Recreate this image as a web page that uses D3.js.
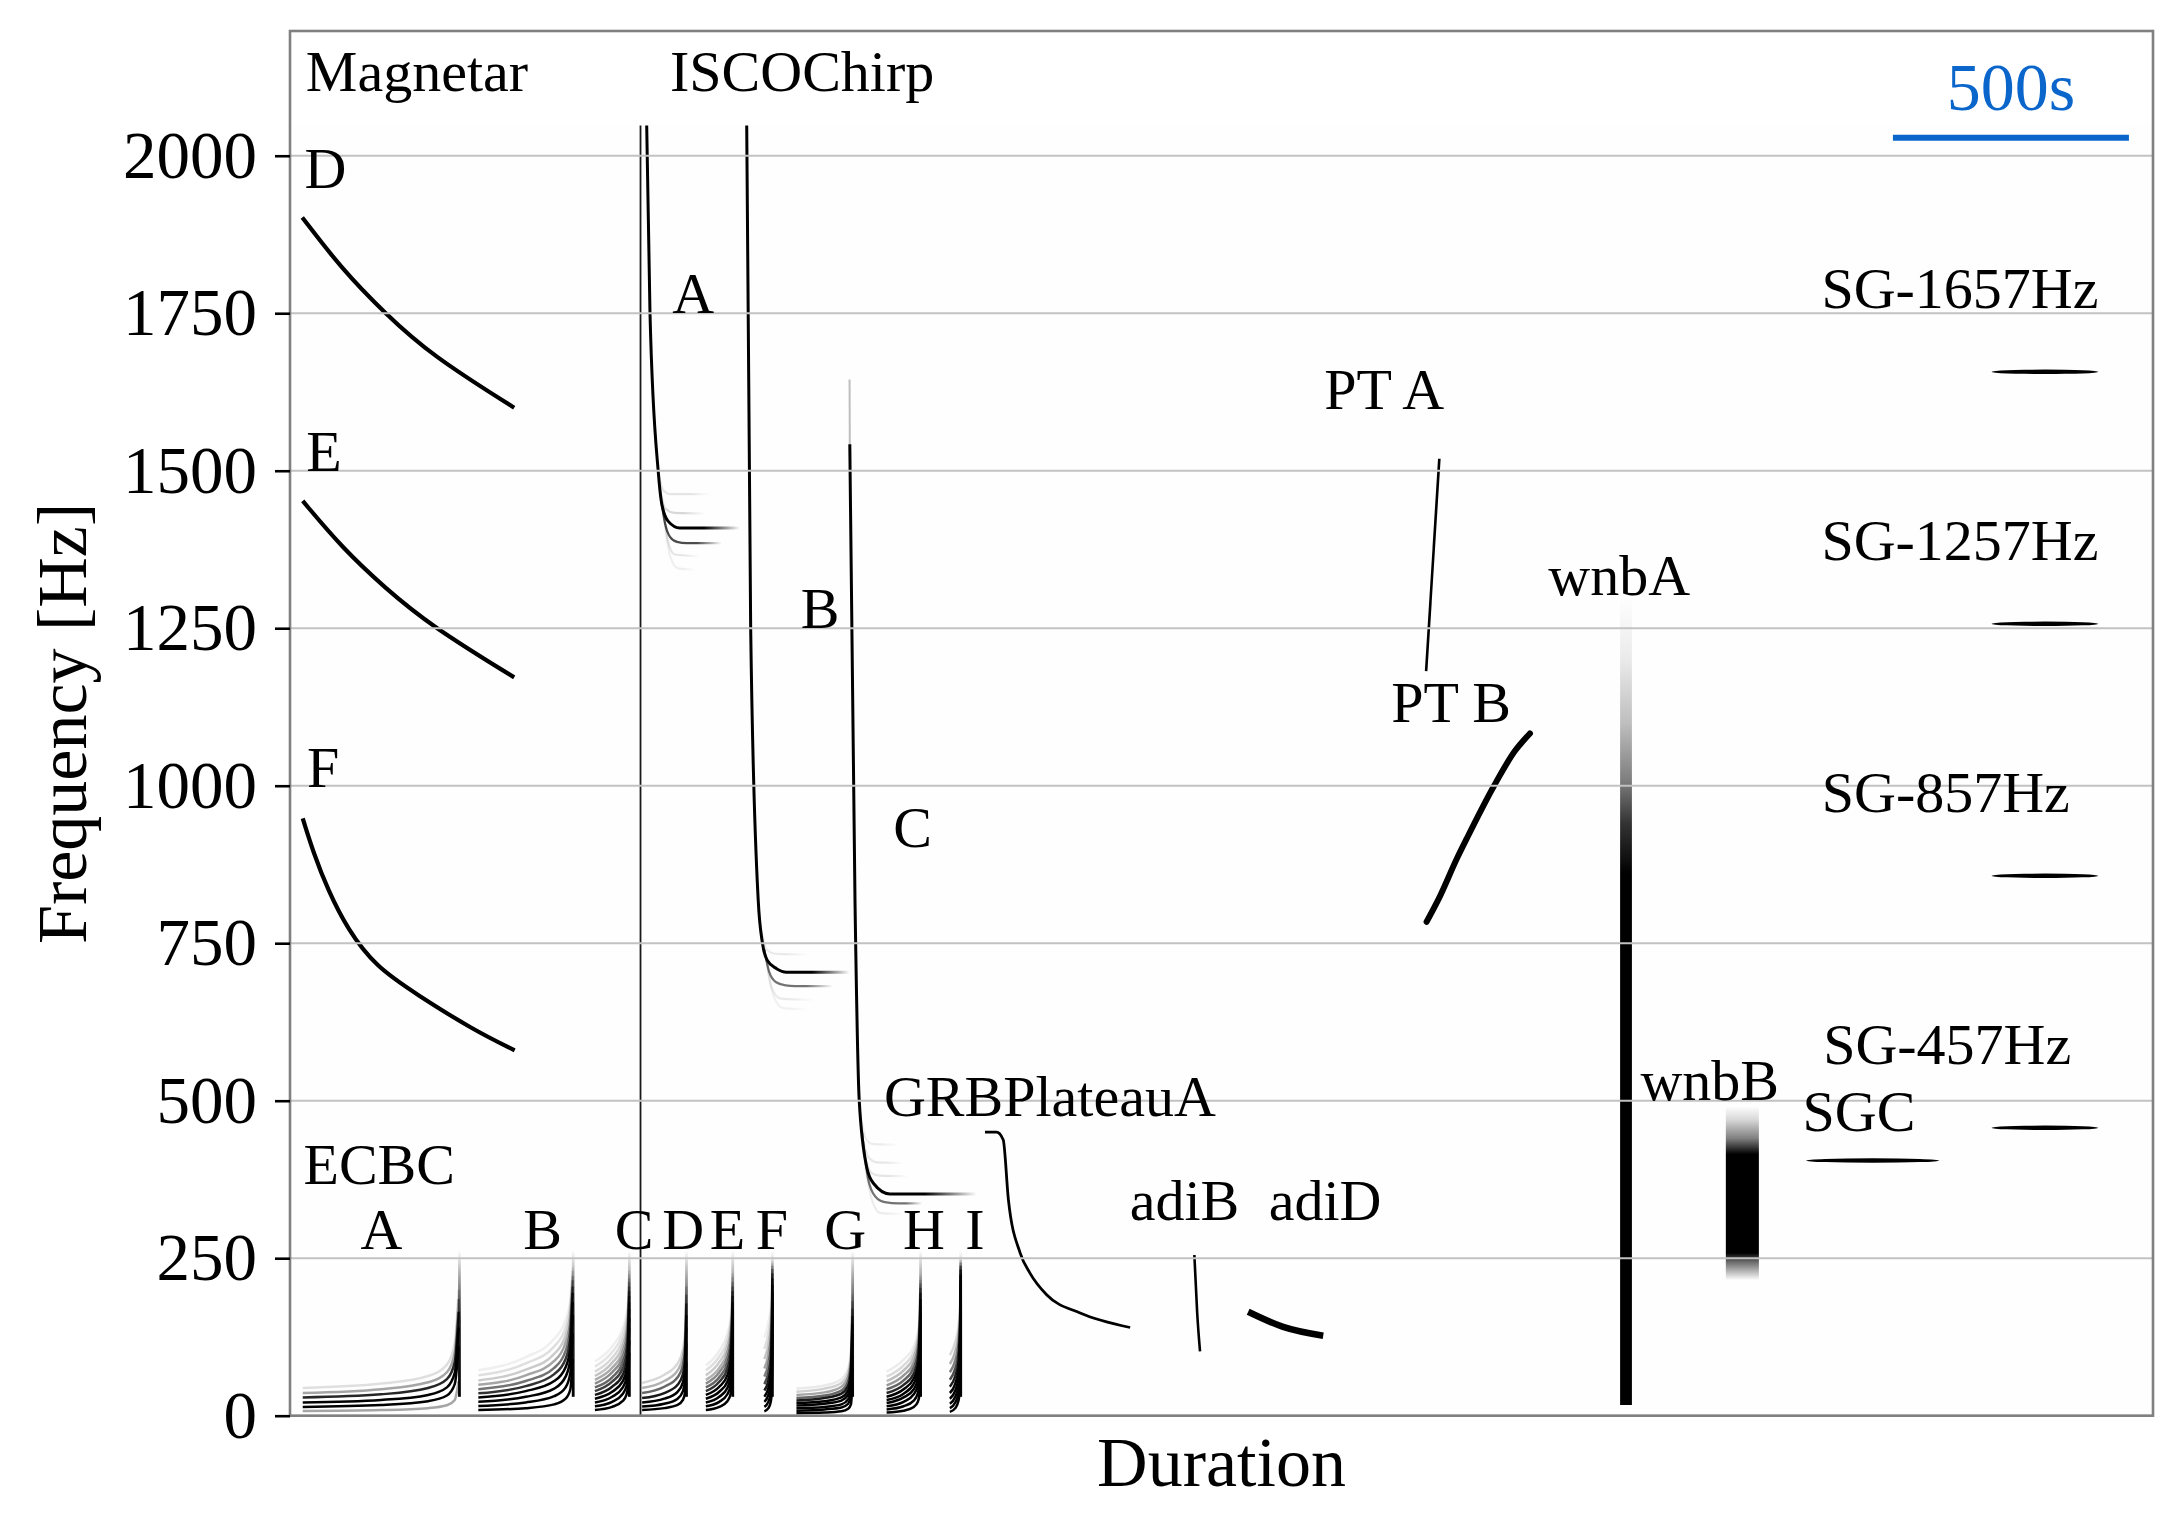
<!DOCTYPE html>
<html><head><meta charset="utf-8">
<script src="https://cdn.jsdelivr.net/npm/d3@7"></script>
<style>
html,body{margin:0;padding:0;background:#fff;}
svg text{font-family:"Liberation Serif","Times New Roman",serif;}
</style></head><body>
<svg id="chart" width="2181" height="1533"></svg>
<script>
// ---------------- DATA (time in seconds, frequency in Hz) ----------------
const yTicks = [0, 250, 500, 750, 1000, 1250, 1500, 1750, 2000];

const magnetarD = [[26,1902],[110,1820],[201,1750],[300,1683],[475,1600]];
const magnetarE = [[27,1452],[110,1378],[201,1314],[300,1253],[475,1172]];
const magnetarF = [[27,948],[50,893],[80,835],[122,772],[181,713],[270,668],[387,613],[476,580]];

// ECBC chirp families: frequency of each track at these phases of the group duration
const ecbcPhase = [0, 0.5, 0.8, 0.92, 0.97, 0.995];
const ecbcTimes = [[27,359],[399,600],[646,719],[746,840],[881,938],[1005,1022],[1073,1192],[1264,1336],[1398,1421]];
const ecbcA = [[7.5,9,12,16.5,25,55],[14,17,23,32,50,110],[21,25,33,45,68,140],[29,34,44,58,85,165],[36,42,53,69,100,185],[44,51,63,81,115,200]];
const ecbcAAmp = [0.35,1,1,0.85,0.35,0.12];
const ecbcB = [[9,12,18,27,42,90],[15.5,21,31,45,68,130],[22,30,43,62,90,160],[29,39,55,77,108,180],[35.5,47,66,90,124,195],[42,55,76,103,138,205],[49,64,87,116,150,215],[56,73,98,128,162,222],[64,83,110,140,175,230],[72,93,122,152,185,235]];
const ecbcBAmp = [1,1,1,1,0.8,0.55,0.35,0.2,0.12,0.06];
const ecbcC = [[9,14,23,34,52,100],[15,22,34,48,70,120],[21,30,44,61,86,140],[27,38,54,73,100,155],[33,46,64,85,113,170],[39,54,74,96,125,180],[45,61,83,106,136,190],[51,69,92,116,146,198],[57,76,101,126,156,205],[63,84,110,135,165,212],[70,92,119,144,173,218],[78,101,129,154,181,224],[86,110,138,163,189,230]];
const ecbcCAmp = [1,1,1,1,0.9,0.75,0.6,0.45,0.33,0.23,0.15,0.1,0.06];
const ecbcD = [[9,12,17,25,38,85],[14.5,19,27,39,58,115],[21,27,38,53,76,140],[28,36,49,66,92,160],[36,46,61,80,108,178],[44,55,72,93,122,192],[52,65,83,105,135,205]];
const ecbcDAmp = [1,1,1,0.9,0.6,0.3,0.15];
const ecbcE = [[9,14,23,34,52,100],[15,22,34,48,70,120],[21,30,44,61,86,140],[27,38,54,73,100,155],[33,46,64,85,113,170],[39,54,74,96,125,180],[45,61,83,106,136,190],[51,69,92,116,146,198],[57,76,101,126,156,205],[64,85,110,135,165,212],[72,94,120,145,174,220],[80,103,130,155,183,226]];
const ecbcEAmp = [1,1,1,1,1,0.8,0.6,0.45,0.3,0.2,0.12,0.07];
const ecbcF = [[7,12,22,38,65,130],[14,22,36,56,90,160],[22,33,50,74,110,180],[30,44,64,90,128,195],[40,56,78,106,145,208],[50,68,92,122,160,218],[62,82,108,138,175,226],[75,97,124,154,188,233],[90,113,140,168,200,238],[106,130,157,183,212,242],[124,148,174,198,223,246]];
const ecbcFAmp = [1,1,1,1,0.9,0.7,0.5,0.35,0.22,0.12,0.06];
const ecbcG = [[4,5,7,11,18,50],[8,10,13,19,30,75],[12,14,18,26,40,95],[16,19,24,33,50,115],[20,23,29,40,60,130],[24,28,35,47,69,145],[28,32,40,54,78,158],[33,37,46,61,87,170],[38,43,52,68,96,182],[43,48,58,75,105,192]];
const ecbcGAmp = [1,1,1,1,1,0.9,0.6,0.35,0.18,0.08];
const ecbcH = [[5,8,14,22,36,80],[10,15,24,36,55,110],[15,22,34,48,70,130],[20,29,42,59,84,148],[25,35,51,69,96,162],[30,42,59,79,107,174],[36,49,67,88,117,185],[42,56,76,98,127,195],[48,64,84,107,136,203],[55,72,93,116,145,210],[62,80,101,124,153,216],[70,89,110,133,161,222]];
const ecbcHAmp = [1,1,1,1,1,1,0.85,0.6,0.4,0.25,0.14,0.07];
const ecbcI = [[6,12,24,42,72,140],[12,21,36,58,95,170],[19,30,48,74,115,190],[27,40,60,88,130,205],[36,51,73,102,145,215],[46,63,86,116,158,224],[57,75,99,129,170,232],[69,88,113,142,182,238],[82,102,127,155,193,243],[96,117,142,168,204,247]];
const ecbcIAmp = [1,1,1,1,1,0.9,0.7,0.5,0.3,0.15];
const ecbcTracks = [ecbcA, ecbcB, ecbcC, ecbcD, ecbcE, ecbcF, ecbcG, ecbcH, ecbcI];
const ecbcAmps = [ecbcAAmp, ecbcBAmp, ecbcCAmp, ecbcDAmp, ecbcEAmp, ecbcFAmp, ecbcGAmp, ecbcHAmp, ecbcIAmp];
const ecbcSpikeRange = [30, 262];

// ISCO chirps
const iscoSpike = [742.6, 0, 2048];
const iscoA = [[755.7,2048],[762.7,1750],[780,1500],[787,1450],[801,1420],[826,1409],[953,1409]];
const iscoB = [[967.6,2048],[976,1250],[992,818],[1001,750],[1011,723],[1031,709.5],[1052,704],[1186,704]];
const iscoC = [[1186,1542],[1197,818],[1206,500],[1222,394],[1236,369],[1271,352],[1455,352]];
const iscoCTop = [[1185.5,1645],[1186,1542]];
const iscoSide = [
  [[787,1450],[795,1415],[805,1395],[820,1387],[840,1385],[915,1385]],
  [[780,1500],[790,1470],[805,1463],[830,1463],[890,1463]],
  [[784,1470],[795,1440],[815,1433],[880,1432]],
  [[790,1440],[800,1390],[815,1367],[870,1364]],
  [[793,1430],[805,1365],[822,1345],[860,1343]],
  [[1005,740],[1015,705],[1030,688],[1050,683],[1070,682],[1150,682]],
  [[999,770],[1010,740],[1030,733],[1100,732]],
  [[1008,730],[1020,680],[1040,662],[1110,660]],
  [[1010,720],[1025,665],[1045,647],[1100,645]],
  [[1212,450],[1225,375],[1240,348],[1260,339],[1290,337],[1340,337]],
  [[1208,480],[1220,440],[1235,431],[1290,430]],
  [[1213,440],[1226,410],[1245,402],[1300,401]],
  [[1218,410],[1232,385],[1250,381],[1310,380]],
  [[1218,400],[1232,345],[1250,322],[1300,320]]
];
const iscoSideAmp = [0.7,0.1,0.15,0.1,0.06,0.55,0.08,0.08,0.05,0.55,0.07,0.09,0.1,0.07];

const grbPlateauA = [[1472.5,450],[1497,450],[1511,438],[1522,343],[1547,258],[1568,226],[1603,192],[1674,163],[1780,140]];
const adiB = [[1916,255],[1922,163],[1928,102]];
const adiD = [[2030,165],[2104,141],[2189,127]];
const ptA = [[2407,1182],[2435,1519]];
const ptB = [[2408,784],[2436,824],[2472,884],[2493,916],[2551,1000],[2595,1055],[2627,1083]];

const wnbATime = [2818, 2843];
const wnbAProfile = [[17,1],[860,1],[940,0.8],[1010,0.5],[1100,0.25],[1200,0.08],[1300,0]];
const wnbBTime = [3042, 3112];
const wnbBProfile = [[215,0],[245,0.6],[258,1],[415,1],[440,0.5],[470,0.15],[491,0]];

const sgFreqs = [405, 457, 857, 1257, 1657];
const sgTimes = [[3212,3494],[3605,3831],[3605,3831],[3605,3831],[3605,3831]];

const scaleBar = {start: 3396, length: 500, freq: 2028.6, label: "500s", labelFreq: 2072};

const labels = [
  ["Magnetar",269,2103],["ISCOChirp",1085,2103],["D",75,1949],["E",72,1499],["F",70,998],
  ["A",854,1750],["B",1123,1250],["C",1319,903],
  ["ECBC",189,368],["A",194,265],["B",535,265],["C",729,265],["D",833,265],["E",927,265],
  ["F",1021,265],["G",1176,265],["H",1343,265],["I",1451,265],
  ["GRBPlateauA",1610,476],["adiB",1895,311],["adiD",2193,311],
  ["PT A",2318,1598],["PT B",2460,1101],["wnbA",2816,1302],["wnbB",3008,500.6],
  ["SGC",3324,452],["SG-457Hz",3511,558],["SG-857Hz",3508,958],["SG-1257Hz",3538,1358],["SG-1657Hz",3538,1758]
];

// ---------------- DRAWING ----------------
const svg = d3.select('#chart');
const M = {left:290, right:2153, top:31, bottom:1415.7};
const x = d3.scaleLinear().domain([0,3947]).range([M.left, M.right]);
const y = d3.scaleLinear().domain([0,2198]).range([M.bottom, M.top]);
const defs = svg.append('defs');
const FONT = '"Liberation Serif","Times New Roman",serif';

svg.append('rect').attr('x',M.left).attr('y',y(2048)).attr('width',M.right-M.left)
  .attr('height',M.bottom-y(2048)).attr('fill','#fefefe');

const g = svg.append('g');
const curve = d3.line().x(d=>x(d[0])).y(d=>y(d[1])).curve(d3.curveMonotoneX);
const smooth = d3.line().x(d=>x(d[0])).y(d=>y(d[1])).curve(d3.curveBasis);
const straight = d3.line().x(d=>x(d[0])).y(d=>y(d[1]));

let gid = 0;
function hFade(s0, s1, op){
  const id = 'hf'+(gid++);
  const gr = defs.append('linearGradient').attr('id',id).attr('gradientUnits','userSpaceOnUse')
    .attr('x1',x(s0)).attr('x2',x(s1)).attr('y1',0).attr('y2',0);
  gr.append('stop').attr('offset',0).attr('stop-color','#000').attr('stop-opacity',op);
  gr.append('stop').attr('offset',1).attr('stop-color','#000').attr('stop-opacity',0);
  return 'url(#'+id+')';
}
function vProfile(profile){
  const id = 'vp'+(gid++);
  const f0 = profile[0][0], f1 = profile[profile.length-1][0];
  const gr = defs.append('linearGradient').attr('id',id).attr('gradientUnits','userSpaceOnUse')
    .attr('x1',0).attr('x2',0).attr('y1',y(f0)).attr('y2',y(f1));
  profile.forEach(p=>gr.append('stop').attr('offset',(p[0]-f0)/(f1-f0)).attr('stop-color','#000').attr('stop-opacity',p[1]));
  return 'url(#'+id+')';
}

// Magnetars
[magnetarD, magnetarE, magnetarF].forEach(p=>{
  g.append('path').attr('d',smooth(p)).attr('fill','none').attr('stroke','#000').attr('stroke-width',4.2);
});

// ECBC families
const spikeFill = vProfile([[ecbcSpikeRange[0],1],[150,0.85],[220,0.35],[ecbcSpikeRange[1],0]]);
ecbcTracks.forEach((tracks, gi)=>{
  const [t0,t1] = ecbcTimes[gi];
  tracks.forEach((fr, ti)=>{
    const pts = ecbcPhase.map((u,i)=>[t0+u*(t1-t0), fr[i]]);
    g.append('path').attr('d',curve(pts)).attr('fill','none').attr('stroke','#000')
      .attr('stroke-opacity',ecbcAmps[gi][ti]).attr('stroke-width',2.5);
  });
  g.append('rect').attr('x',x(t1)-1.4).attr('width',2.8)
    .attr('y',y(ecbcSpikeRange[1])).attr('height',y(ecbcSpikeRange[0])-y(ecbcSpikeRange[1]))
    .attr('fill',spikeFill);
});

// ISCO
g.append('line').attr('x1',x(iscoSpike[0])).attr('x2',x(iscoSpike[0]))
  .attr('y1',y(iscoSpike[1])).attr('y2',y(iscoSpike[2])).attr('stroke','#000').attr('stroke-width',1.8).attr('stroke-opacity',0.9);
iscoSide.forEach((p,i)=>{
  const sE = p[p.length-1][0], sF = p[p.length-2][0];
  g.append('path').attr('d',curve(p)).attr('fill','none')
    .attr('stroke',hFade(sF+0.3*(sE-sF), sE, iscoSideAmp[i])).attr('stroke-width',2.2);
});
[iscoA, iscoB, iscoC].forEach(p=>{
  const sE = p[p.length-1][0], sF = p[p.length-2][0];
  g.append('path').attr('d',curve(p)).attr('fill','none')
    .attr('stroke',hFade(sF+0.4*(sE-sF), sE, 1)).attr('stroke-width',3);
});
g.append('path').attr('d',straight(iscoCTop)).attr('fill','none').attr('stroke','#000')
  .attr('stroke-opacity',0.25).attr('stroke-width',2);

// GRB plateau, adi, PT
g.append('path').attr('d',curve(grbPlateauA)).attr('fill','none').attr('stroke','#000').attr('stroke-width',2.8);
g.append('path').attr('d',curve(adiB)).attr('fill','none').attr('stroke','#000').attr('stroke-width',2.6);
g.append('path').attr('d',curve(adiD)).attr('fill','none').attr('stroke','#000').attr('stroke-width',6.5);
g.append('path').attr('d',straight(ptA)).attr('fill','none').attr('stroke','#000').attr('stroke-width',2.6);
g.append('path').attr('d',curve(ptB)).attr('fill','none').attr('stroke','#000').attr('stroke-width',6)
  .attr('stroke-linecap','round');

// White noise bursts
const fA = vProfile(wnbAProfile);
g.append('rect').attr('x',x(wnbATime[0])).attr('width',x(wnbATime[1])-x(wnbATime[0]))
  .attr('y',y(wnbAProfile[wnbAProfile.length-1][0])).attr('height',y(wnbAProfile[0][0])-y(wnbAProfile[wnbAProfile.length-1][0]))
  .attr('fill',fA);
const fB = vProfile(wnbBProfile);
g.append('rect').attr('x',x(wnbBTime[0])).attr('width',x(wnbBTime[1])-x(wnbBTime[0]))
  .attr('y',y(wnbBProfile[wnbBProfile.length-1][0])).attr('height',y(wnbBProfile[0][0])-y(wnbBProfile[wnbBProfile.length-1][0]))
  .attr('fill',fB);

// Sine-Gaussians
sgFreqs.forEach((f,i)=>{
  const [s0,s1] = sgTimes[i];
  g.append('ellipse').attr('cx',x((s0+s1)/2)).attr('cy',y(f))
    .attr('rx',(x(s1)-x(s0))/2).attr('ry',2.2).attr('fill','#000');
});

// Grid
svg.append('g').selectAll('line').data(yTicks).join('line')
  .attr('x1',M.left).attr('x2',M.right).attr('y1',d=>y(d)).attr('y2',d=>y(d))
  .attr('stroke','#c2c2c2').attr('stroke-width',2);

// Frame
svg.append('rect').attr('x',M.left).attr('y',M.top).attr('width',M.right-M.left).attr('height',M.bottom-M.top)
  .attr('fill','none').attr('stroke','#808080').attr('stroke-width',2.6);

// Y axis
const ga = svg.append('g').attr('transform',`translate(${M.left},0)`)
  .call(d3.axisLeft(y).tickValues(yTicks).tickSize(15).tickPadding(18).tickFormat(d3.format('d')));
ga.select('.domain').remove();
ga.selectAll('.tick line').attr('stroke','#000').attr('stroke-width',2.6);
ga.selectAll('.tick text').attr('font-size',67).attr('fill','#000').attr('font-family',FONT);

// Axis titles
svg.append('text').attr('transform',`translate(86,${(M.top+M.bottom)/2}) rotate(-90)`)
  .attr('text-anchor','middle').attr('font-size',70).attr('font-family',FONT).text('Frequency [Hz]');
svg.append('text').attr('x',(M.left+M.right)/2).attr('y',1486)
  .attr('text-anchor','middle').attr('font-size',70).attr('font-family',FONT).text('Duration');

// Scale bar
svg.append('line').attr('x1',x(scaleBar.start)).attr('x2',x(scaleBar.start+scaleBar.length))
  .attr('y1',y(scaleBar.freq)).attr('y2',y(scaleBar.freq)).attr('stroke','#0b66cc').attr('stroke-width',6);
svg.append('text').attr('x',x(scaleBar.start+scaleBar.length/2)).attr('y',y(scaleBar.labelFreq))
  .attr('text-anchor','middle').attr('font-size',68).attr('fill','#0b66cc').attr('font-family',FONT).text(scaleBar.label);

// Labels
svg.append('g').selectAll('text').data(labels).join('text')
  .attr('x',d=>x(d[1])).attr('y',d=>y(d[2])).attr('text-anchor','middle')
  .attr('font-size',58).attr('font-family',FONT).attr('fill','#000').text(d=>d[0]);
</script>
</body></html>
